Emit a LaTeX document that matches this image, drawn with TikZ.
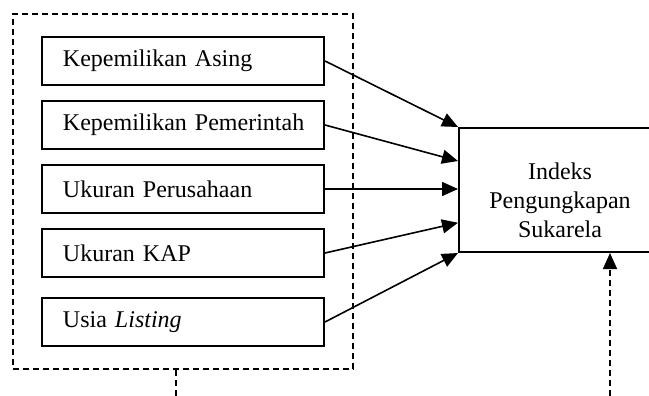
\documentclass[tikz,border=0pt]{standalone}
\usepackage{fontspec}
\setmainfont{Liberation Serif}
\usetikzlibrary{arrows.meta,positioning,fit,calc}

\begin{document}
\begin{tikzpicture}[x=0.5pt,y=-0.5pt,
		indep/.style={rectangle,draw=black,line width=1pt,text width=130pt,align=left,inner xsep=5.5pt,minimum height=24pt,
			execute at begin node={\hspace*{5pt}},font=\fontsize{12}{14}\selectfont},
		dep/.style={rectangle,draw=black,line width=1pt,minimum width=101pt,minimum height=62pt},
		deptext/.style={align=center,font=\fontsize{12}{14.5}\selectfont},
		conn/.style={-{Triangle[length=8pt,width=7pt]},line width=0.8pt},
		putus/.style={draw=black,dash pattern=on 3pt off 2pt,line width=1pt}]
	\clip (0,0) rectangle (649,396); %page size

	\node[indep] (asing) at (183,61) {Kepemilikan Asing};
	\node[indep] (pemerintah) [below=7pt of asing] {Kepemilikan Pemerintah};
	\node[indep] (ukuran) [below=7pt of pemerintah] {Ukuran Perusahaan};
	\node[indep] (kap) [below=7pt of ukuran] {Ukuran KAP};
	\node[indep] (listing) [below=9.5pt of kap] {Usia \textit{Listing}};
	\node[putus,fit=(asing)(listing),inner xsep=14pt,inner ysep=11pt] (kelompok) {};

	\node[dep] (indeks) at (560,190) {}; %right side runs off the page
	\node[deptext] (indekstext) at ($(indeks.center)+(0,10)$) {Indeks\\Pengungkapan\\Sukarela};

	\draw[conn] (asing.east) -- (indeks.north west);
	\draw[conn] (pemerintah.east) -- ($(indeks.north west)!0.27!(indeks.south west)$);
	\draw[conn] (ukuran.east) -- (ukuran.east -| indeks.west);
	\draw[conn] (kap.east) -- ($(indeks.north west)!0.76!(indeks.south west)$);
	\draw[conn] (listing.east) -- (indeks.south west);

	\coordinate (lepas) at (176,396);
	\coordinate (moderasi) at (610,396);
	\draw[putus] (lepas |- kelompok.south) -- (lepas);
	\draw[putus,conn] (moderasi) -- (moderasi |- indeks.south);
\end{tikzpicture}
\end{document}
